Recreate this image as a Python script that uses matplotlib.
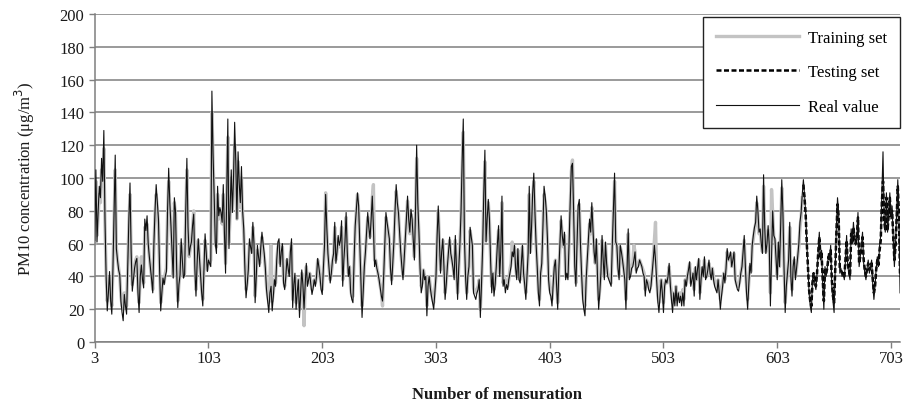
import numpy as np
import matplotlib
matplotlib.use("Agg")
import matplotlib.pyplot as plt

plt.rcParams["font.family"] = ["Liberation Serif", "DejaVu Serif"]

# ── Data ─────────────────────────────────────────────────────────────────────
FIRST_IDX = 3          # first mensuration number
TEST_START = 626       # first mensuration of the testing set

real_value = [
    62, 105, 61, 80, 95, 88, 112, 98, 129, 75,
    40, 19, 30, 43, 25, 17, 45, 80, 114, 57,
    50, 44, 41, 25, 18, 13, 29, 22, 17, 45,
    75, 97, 55, 31, 38, 45, 49, 51, 30, 18,
    40, 47, 38, 33, 75, 68, 77, 60, 52, 45,
    38, 30, 60, 80, 96, 85, 75, 45, 19, 30,
    39, 35, 40, 43, 80, 106, 85, 71, 55, 39,
    # 73-142
    88, 80, 45, 21, 35, 41, 63, 50, 39, 41,
    80, 112, 70, 53, 58, 61, 71, 78, 45, 28,
    48, 63, 52, 41, 30, 22, 45, 66, 55, 43,
    50, 48, 46, 153, 115, 89, 60, 54, 95, 77,
    82, 79, 73, 96, 67, 42, 90, 136, 57, 80,
    105, 79, 100, 134, 110, 75, 116, 97, 85, 107,
    80, 69, 45, 27, 35, 44, 63, 58, 54, 73,
    # 143-212
    60, 24, 40, 59, 52, 46, 58, 67, 60, 54,
    45, 32, 25, 18, 30, 34, 19, 28, 38, 34,
    50, 61, 63, 46, 55, 60, 36, 32, 40, 51,
    45, 40, 55, 63, 21, 35, 42, 20, 30, 38,
    15, 30, 44, 35, 20, 35, 48, 34, 38, 42,
    35, 29, 33, 38, 34, 40, 51, 46, 40, 32,
    29, 45, 59, 90, 70, 54, 45, 36, 42, 50,
    # 213-282
    54, 73, 48, 55, 65, 59, 62, 74, 34, 50,
    61, 79, 55, 40, 46, 30, 26, 24, 50, 71,
    81, 91, 83, 60, 35, 15, 30, 46, 55, 67,
    79, 70, 63, 75, 89, 70, 46, 50, 45, 42,
    38, 33, 28, 25, 40, 60, 79, 73, 68, 63,
    45, 35, 48, 61, 80, 96, 85, 79, 67, 55,
    46, 38, 50, 63, 75, 89, 75, 67, 81, 75,
    # 283-352
    63, 50, 80, 120, 85, 67, 45, 30, 34, 44,
    38, 40, 16, 34, 40, 33, 28, 24, 20, 30,
    40, 65, 83, 63, 42, 55, 63, 46, 26, 35,
    46, 55, 64, 54, 50, 45, 38, 65, 45, 26,
    45, 59, 79, 110, 136, 63, 40, 26, 40, 46,
    70, 64, 59, 30, 28, 26, 30, 32, 38, 15,
    35, 57, 90, 117, 61, 75, 87, 75, 50, 30,
    # 353-422
    42, 28, 35, 46, 60, 71, 40, 55, 89, 34,
    38, 30, 35, 32, 38, 42, 46, 55, 52, 59,
    45, 38, 57, 38, 36, 48, 59, 42, 35, 26,
    40, 54, 95, 54, 70, 91, 103, 79, 60, 46,
    30, 22, 42, 48, 70, 95, 89, 80, 63, 38,
    30, 28, 22, 35, 46, 50, 35, 20, 44, 60,
    77, 65, 59, 67, 38, 42, 38, 60, 85, 107,
    # 423-492
    109, 80, 46, 34, 60, 83, 87, 60, 42, 26,
    20, 16, 38, 50, 62, 75, 67, 85, 69, 55,
    48, 63, 40, 20, 30, 42, 65, 50, 38, 61,
    48, 40, 38, 36, 34, 59, 80, 103, 61, 59,
    45, 38, 59, 55, 50, 44, 38, 20, 45, 69,
    38, 40, 45, 46, 50, 55, 42, 45, 46, 50,
    48, 46, 42, 40, 28, 38, 36, 32, 30, 34,
    # 493-546
    42, 50, 59, 50, 38, 25, 18, 28, 38, 30,
    18, 34, 38, 36, 40, 48, 35, 26, 18, 30,
    22, 34, 22, 30, 24, 28, 22, 30, 22, 38,
    34, 40, 44, 49, 34, 38, 42, 28, 46, 38,
    45, 51, 26, 38, 46, 40, 52, 38, 40, 44,
    50, 42, 38, 45,
    # 547-626
    38, 34, 32, 30, 38, 30, 20, 28, 34, 42,
    36, 45, 57, 50, 52, 55, 46, 50, 55, 38,
    35, 32, 31, 36, 42, 46, 55, 65, 46, 30,
    20, 35, 48, 42, 59, 65, 70, 73, 89, 80,
    67, 69, 60, 54, 102, 70, 54, 60, 71, 59,
    22, 50, 80, 65, 63, 50, 38, 61, 46, 70,
    99, 79, 45, 18, 34, 42, 50, 73, 40, 28,
    46, 52, 38, 45, 52, 60, 73, 79, 90, 99,
    # 627-711
    90, 79, 60, 46, 30, 22, 18, 38, 42, 36,
    32, 42, 55, 67, 50, 56, 35, 20, 46, 40,
    45, 54, 50, 59, 34, 25, 18, 46, 70, 88,
    79, 42, 45, 40, 42, 38, 50, 65, 46, 42,
    38, 69, 60, 73, 63, 59, 65, 79, 46, 52,
    59, 67, 48, 42, 38, 45, 50, 42, 46, 50,
    35, 26, 34, 45, 52, 46, 59, 65, 90, 116,
    75, 67, 91, 67, 80, 91, 75, 83, 63, 46,
    59, 80, 99, 75, 30,
]

training_set = [
    60, 98, 65, 78, 90, 85, 105, 95, 118, 72,
    42, 25, 32, 40, 28, 22, 45, 75, 105, 58,
    50, 45, 40, 28, 22, 20, 30, 25, 22, 45,
    72, 90, 55, 35, 40, 45, 50, 52, 33, 24,
    40, 52, 40, 36, 70, 66, 72, 60, 52, 45,
    40, 32, 58, 78, 90, 82, 72, 45, 24, 30,
    40, 36, 42, 45, 78, 98, 82, 70, 55, 40,
    # 73-142
    85, 78, 45, 25, 35, 42, 60, 50, 40, 42,
    78, 105, 68, 52, 57, 62, 70, 80, 48, 32,
    50, 62, 52, 42, 32, 26, 45, 62, 55, 44,
    50, 48, 50, 140, 112, 85, 60, 58, 90, 75,
    80, 78, 72, 90, 68, 48, 88, 125, 60, 78,
    100, 80, 95, 120, 105, 75, 110, 92, 82, 100,
    78, 66, 48, 32, 36, 45, 60, 58, 55, 70,
    # 143-212
    60, 28, 42, 56, 52, 48, 57, 64, 58, 52,
    45, 34, 28, 24, 38, 59, 25, 30, 38, 36,
    50, 58, 60, 48, 54, 58, 38, 34, 40, 50,
    45, 42, 54, 60, 26, 36, 40, 24, 32, 38,
    20, 32, 42, 35, 10, 35, 46, 36, 38, 42,
    36, 32, 35, 38, 36, 40, 50, 46, 40, 35,
    32, 45, 58, 91, 68, 54, 45, 38, 42, 48,
    # 213-282
    54, 70, 50, 55, 63, 58, 60, 70, 38, 50,
    60, 76, 55, 42, 46, 32, 28, 28, 50, 70,
    80, 90, 80, 60, 38, 22, 32, 46, 55, 66,
    76, 70, 64, 75, 88, 96, 50, 50, 46, 42,
    38, 34, 30, 22, 40, 58, 76, 72, 68, 62,
    46, 38, 48, 60, 78, 92, 84, 78, 66, 55,
    47, 40, 50, 62, 74, 86, 74, 66, 78, 74,
    # 283-352
    62, 52, 78, 112, 82, 66, 46, 34, 36, 44,
    40, 40, 22, 34, 40, 34, 30, 26, 24, 32,
    40, 62, 80, 62, 44, 54, 62, 46, 30, 36,
    46, 54, 62, 54, 50, 46, 40, 62, 45, 30,
    45, 58, 76, 105, 128, 65, 42, 30, 40, 46,
    68, 63, 58, 33, 30, 30, 32, 34, 38, 20,
    36, 56, 86, 110, 62, 74, 85, 74, 50, 34,
    # 353-422
    42, 32, 36, 46, 58, 68, 42, 55, 85, 36,
    40, 38, 36, 34, 38, 44, 48, 61, 54, 58,
    46, 40, 56, 40, 38, 48, 58, 42, 36, 30,
    40, 52, 90, 55, 70, 88, 98, 78, 60, 46,
    32, 26, 42, 48, 68, 90, 86, 78, 62, 40,
    32, 30, 26, 35, 45, 50, 36, 24, 44, 58,
    74, 65, 58, 65, 40, 42, 40, 60, 82, 104,
    # 423-492
    111, 78, 48, 36, 60, 80, 84, 60, 42, 30,
    24, 22, 38, 50, 60, 72, 66, 82, 68, 55,
    48, 62, 42, 26, 32, 42, 62, 50, 40, 60,
    48, 42, 40, 38, 36, 58, 78, 98, 62, 58,
    46, 40, 58, 55, 50, 45, 40, 26, 45, 66,
    40, 42, 46, 48, 59, 55, 44, 46, 48, 50,
    48, 46, 44, 42, 32, 38, 37, 34, 32, 35,
    # 493-546
    42, 52, 62, 73, 40, 28, 24, 30, 38, 32,
    24, 35, 38, 36, 40, 46, 36, 30, 24, 30,
    26, 34, 26, 30, 28, 30, 26, 32, 26, 38,
    35, 40, 44, 48, 36, 38, 42, 32, 45, 38,
    44, 50, 30, 38, 45, 40, 50, 40, 40, 44,
    48, 42, 40, 45,
    # 547-625
    40, 36, 34, 32, 38, 32, 26, 30, 36, 42,
    38, 45, 55, 50, 52, 54, 46, 50, 54, 40,
    36, 34, 34, 37, 42, 46, 54, 62, 46, 34,
    26, 36, 46, 43, 58, 63, 68, 72, 85, 78,
    66, 68, 60, 55, 95, 70, 55, 60, 68, 58,
    30, 93, 78, 64, 62, 50, 40, 60, 46, 68,
    94, 76, 46, 24, 35, 42, 50, 70, 42, 32,
    46, 50, 40, 45, 52, 58, 70, 76, 88,
]

testing_set = [
    96, 88, 78, 60, 46, 32, 25, 22, 36, 42,
    38, 34, 42, 54, 64, 52, 54, 38, 25, 44,
    42, 45, 52, 50, 56, 38, 28, 24, 44, 66,
    84, 76, 45, 44, 42, 42, 40, 50, 62, 48,
    44, 40, 66, 60, 70, 62, 60, 64, 76, 48,
    52, 58, 64, 50, 44, 40, 45, 48, 44, 46,
    48, 38, 30, 34, 44, 50, 47, 56, 62, 85,
    98, 74, 68, 88, 68, 78, 88, 76, 80, 64,
    50, 58, 76, 95, 78, 40,
]

x_ticks = [3, 103, 203, 303, 403, 503, 603, 703]
y_ticks = list(range(0, 201, 20))

# ── Style ────────────────────────────────────────────────────────────────────
GRID_COL = "#7f7f7f"
AXIS_COL = "#7f7f7f"
TEXT_COL = "#1a1a1a"
TRAIN_COL = "#c3c3c3"
FONT_SIZE = 12

x_real = np.arange(FIRST_IDX, FIRST_IDX + len(real_value))
x_train = np.arange(FIRST_IDX, FIRST_IDX + len(training_set))
x_test = np.arange(TEST_START, TEST_START + len(testing_set))

fig = plt.figure(figsize=(9.11, 4.06), dpi=100)
ax = fig.add_axes([0.104, 0.155, 0.884, 0.808])

ax.plot(x_train, training_set, color=TRAIN_COL, lw=2.4, zorder=2,
        label="Training set")
ax.plot(x_test, testing_set, color="black", lw=1.8, ls=(0, (2.0, 1.0)),
        zorder=3, label="Testing set")
ax.plot(x_real, real_value, color="#111111", lw=0.8, zorder=4,
        label="Real value")

ax.set_xlim(FIRST_IDX, x_real[-1])
ax.set_ylim(0, 200)
ax.set_xticks(x_ticks)
ax.set_yticks(y_ticks)
ax.yaxis.grid(True, color=GRID_COL, lw=1.1)
ax.set_axisbelow(True)

for side in ("top", "right"):
    ax.spines[side].set_visible(False)
for side in ("left", "bottom"):
    ax.spines[side].set_color(AXIS_COL)
    ax.spines[side].set_linewidth(1.1)

ax.tick_params(axis="both", colors=AXIS_COL, labelcolor=TEXT_COL,
               labelsize=FONT_SIZE, length=4, width=1.0, direction="out")
ax.tick_params(axis="x", pad=2)

ax.set_ylabel("PM10 concentration (μg/m$^3$)", fontsize=FONT_SIZE,
              color=TEXT_COL, labelpad=16)
ax.set_xlabel("Number of mensuration", fontsize=FONT_SIZE, color=TEXT_COL,
              fontweight="bold", labelpad=14)

leg = ax.legend(loc="upper right", bbox_to_anchor=(1.0, 0.992),
                fontsize=FONT_SIZE, frameon=True, fancybox=False,
                edgecolor="#222222", framealpha=1.0, handlelength=5.0,
                labelspacing=1.1, borderpad=0.8, handletextpad=0.5,
                borderaxespad=0.0)
leg.get_frame().set_linewidth(1.0)
leg.set_zorder(10)

fig.savefig("out.png", dpi=100)
